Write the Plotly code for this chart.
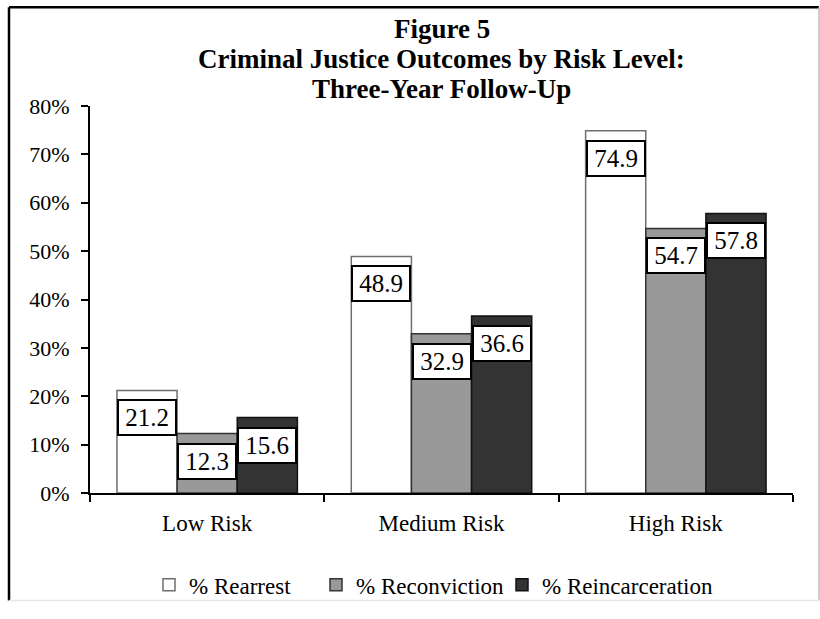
import plotly.graph_objects as go

categories = ["Low Risk", "Medium Risk", "High Risk"]
rearrest = [21.2, 48.9, 74.9]
reconviction = [12.3, 32.9, 54.7]
reincarceration = [15.6, 36.6, 57.8]

series = [
    ("% Rearrest", rearrest, "#ffffff", "#6e6e6e"),
    ("% Reconviction", reconviction, "#999999", "#333333"),
    ("% Reincarceration", reincarceration, "#333333", "#111111"),
]

title_lines = [
    "Figure 5",
    "Criminal Justice Outcomes by Risk Level:",
    "Three-Year Follow-Up",
]

W, H = 820, 619
L, R, T, B = 90, 27, 106, 113
BARGAP = 0.23
SERIF = "Liberation Serif, Times New Roman, serif"

pw, ph = W - L - R, H - T - B
def px(xp):
    return (xp - L) / pw
def py(yp):
    return (H - B - yp) / ph

# each series gets its own legend box along the bottom
legend_ids = ["legend", "legend2", "legend3"]
legend_left = [149, 316, 502]

fig = go.Figure()
for (name, vals, fill, edge), lid in zip(series, legend_ids):
    fig.add_trace(go.Bar(
        name=name, x=categories, y=vals, legend=lid,
        marker=dict(color=fill, line=dict(color=edge, width=1.5)),
    ))

# boxed value labels just under the top of each bar
bw = (1 - BARGAP) / len(series)
for s, (name, vals, fill, edge) in enumerate(series):
    off = (s - (len(series) - 1) / 2) * bw
    for i, v in enumerate(vals):
        fig.add_annotation(
            x=i + off, y=v, xref="x", yref="y",
            text=f"{v:.1f}", showarrow=False,
            yanchor="top", yshift=-9,
            width=54, height=31, borderpad=1,
            bgcolor="white", bordercolor="black", borderwidth=2,
            font=dict(family=SERIF, size=25, color="black"),
        )

# three-line bold heading
for k, line in enumerate(title_lines):
    fig.add_annotation(
        x=0.5, y=py(26 + 31 * k), xref="paper", yref="paper",
        text=f"<b>{line}</b>", showarrow=False,
        xanchor="center", yanchor="middle",
        font=dict(family=SERIF, size=27, color="black"),
    )

# outer frame
frame = [
    (9, 4, 819, 4, "#000000", 2.5),
    (9, 4, 9, 617, "#000000", 2.5),
    (819, 4, 819, 617, "#bdbdbd", 1.5),
    (9, 617, 819, 617, "#e6e6e6", 1.5),
]
for x0, y0, x1, y1, c, w in frame:
    fig.add_shape(type="line", xref="paper", yref="paper",
                  x0=px(x0), y0=py(y0), x1=px(x1), y1=py(y1),
                  line=dict(color=c, width=w))

legend_style = dict(
    orientation="h", xanchor="left", y=py(601), yanchor="middle",
    font=dict(size=23, family=SERIF), itemwidth=30,
    bgcolor="rgba(0,0,0,0)",
)
legends = {lid: dict(legend_style, x=px(xl)) for lid, xl in zip(legend_ids, legend_left)}

fig.update_layout(
    width=W, height=H,
    margin=dict(l=L, r=R, t=T, b=B),
    paper_bgcolor="white", plot_bgcolor="white",
    barmode="group", bargap=BARGAP, bargroupgap=0,
    font=dict(family=SERIF, color="black"),
    xaxis=dict(
        showline=True, linecolor="black", linewidth=2,
        ticks="outside", tickson="boundaries", ticklen=7, tickwidth=2, tickcolor="black",
        tickfont=dict(size=23, family=SERIF), showgrid=False,
        ticklabelstandoff=8,
    ),
    yaxis=dict(
        range=[0, 80], dtick=10, ticksuffix="%",
        showline=True, linecolor="black", linewidth=2,
        ticks="outside", ticklen=7, tickwidth=2, tickcolor="black",
        tickfont=dict(size=22, family=SERIF), showgrid=False, zeroline=False,
        ticklabelstandoff=7,
    ),
    showlegend=True,
    **legends,
)

fig.write_html("out.html")
